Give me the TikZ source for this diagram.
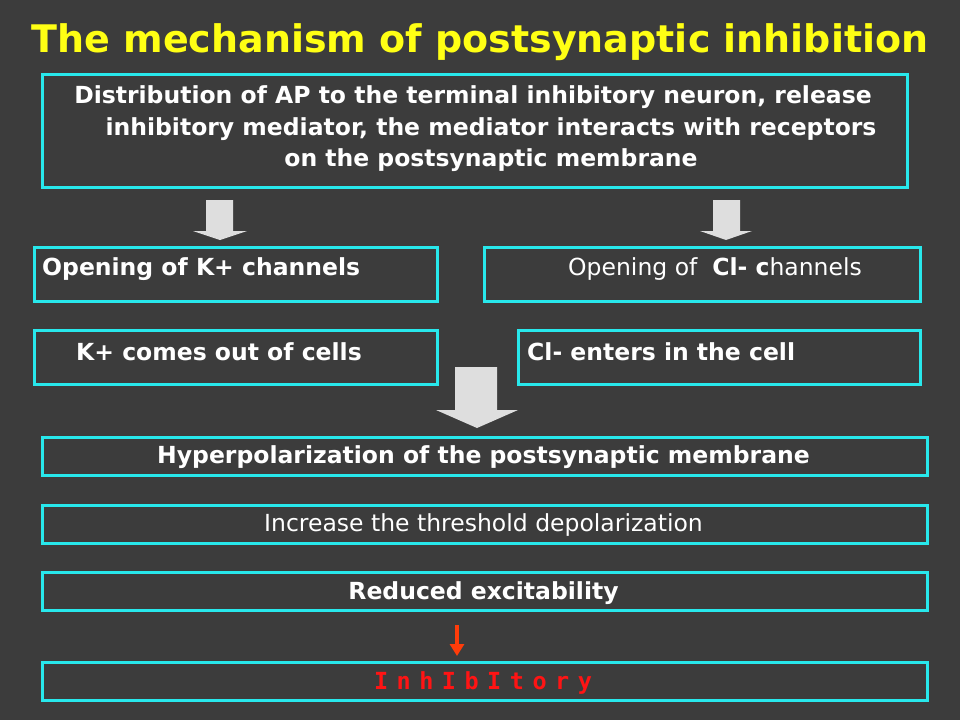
\documentclass[tikz,border=0pt]{standalone}
\usepackage{fontspec}
\setmainfont{DejaVu Sans}
\newfontfamily\redmono{DejaVu Sans Mono}[WordSpace=0.6]
\usetikzlibrary{arrows.meta}
\definecolor{bg}{RGB}{60,60,60}
\definecolor{cyanb}{RGB}{40,232,236}
\definecolor{ttl}{RGB}{255,255,20}
\definecolor{arrowgray}{RGB}{222,222,222}
\definecolor{redtxt}{RGB}{255,20,20}
\definecolor{redarrow}{RGB}{255,60,10}
\tikzset{
  box/.style={draw=cyanb, line width=3pt, rectangle, inner sep=0pt, anchor=north west},
  txt/.style={text=white, inner sep=0pt, font=\fontsize{23.5}{28}\selectfont\bfseries},
  rtxt/.style={text=white, inner sep=0pt, font=\fontsize{23.5}{28}\selectfont},
  bigarrow/.style={fill=arrowgray, draw=none},
}
\begin{document}
\begin{tikzpicture}[x=1pt,y=-1pt]
\fill[bg] (0,0) rectangle (960,720);
\useasboundingbox (0,0) rectangle (960,720);
\node[text=ttl, font=\fontsize{38}{42}\selectfont\bfseries, inner sep=0pt] (title) at (480,42) {The mechanism of postsynaptic inhibition};

\node[box, minimum width=865pt, minimum height=113pt] (dist) at (41,73) {};
\node[txt] (d1) at (473,97) {Distribution of AP to the terminal inhibitory neuron, release};
\node[txt] (d2) at (491,129) {inhibitory mediator, the mediator interacts with receptors};
\node[txt] (d3) at (491,160) {on the postsynaptic membrane};

\node[box, minimum width=403pt, minimum height=54pt] (kopen) at (33,246) {};
\node[txt, anchor=west] (kopent) at (42,269) {Opening of K+ channels};
\node[box, minimum width=436pt, minimum height=54pt] (clopen) at (483,246) {};
\node[rtxt, anchor=west] (clopent) at (568,269) {Opening of\ \ \textbf{Cl- c}hannels};

\node[box, minimum width=403pt, minimum height=54pt] (kout) at (33,329) {};
\node[txt, anchor=west] (koutt) at (76,352) {K+ comes out of cells};
\node[box, minimum width=402pt, minimum height=54pt] (clin) at (517,329) {};
\node[txt, anchor=west] (clint) at (527,352) {Cl- enters in the cell};

\node[box, minimum width=885pt, minimum height=38pt] (hyper) at (41,436) {};
\node[txt] (hypert) at (483.5,457) {Hyperpolarization of the postsynaptic membrane};
\node[box, minimum width=885pt, minimum height=38pt] (incr) at (41,504) {};
\node[rtxt] (incrt) at (483.5,525) {Increase the threshold depolarization};
\node[box, minimum width=885pt, minimum height=38pt] (red) at (41,571) {};
\node[txt] (redt) at (483.5,593) {Reduced excitability};
\node[box, minimum width=885pt, minimum height=38pt] (inh) at (41,661) {};
\node[text=redtxt, inner sep=0pt, font=\fontsize{23.5}{28}\redmono\bfseries] (inht) at (483,683) {I n h I b I t o r y};

% block arrows
\fill[bigarrow] (206,200) -- (233,200) -- (233,231) -- (247,231) -- (220,240) -- (193,231) -- (206,231) -- cycle;
\fill[bigarrow] (713,200) -- (740,200) -- (740,231) -- (752,231) -- (726,240) -- (700,231) -- (713,231) -- cycle;
\fill[bigarrow] (455,367) -- (497,367) -- (497,410) -- (518,410) -- (477,428) -- (436,410) -- (455,410) -- cycle;

\coordinate (rs) at (457,625);
\coordinate (re) at (457,656);
\draw[redarrow, line width=4pt, -{Triangle[width=14pt,length=12pt]}] (rs) -- (re);
\end{tikzpicture}
\end{document}
